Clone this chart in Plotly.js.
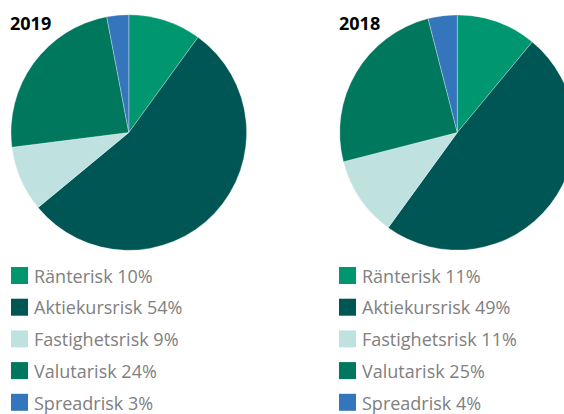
<!DOCTYPE html>
<html>
<head>
<meta charset="utf-8">
<script src="https://cdn.plot.ly/plotly-3.0.1.min.js"></script>
<style>
html, body { margin: 0; padding: 0; overflow: hidden; background: #fff; width: 564px; height: 414px; }
#chart { width: 600px; height: 414px; }
</style>
</head>
<body>
<div id="chart"></div>
<script>
// ---- data ----
const categories = ["Ränterisk", "Aktiekursrisk", "Fastighetsrisk", "Valutarisk", "Spreadrisk"];
const values2019 = [10, 54, 9, 24, 3];
const values2018 = [11, 49, 11, 25, 4];
const years = ["2019", "2018"];
const colors = ["#00966f", "#005655", "#bfe1df", "#00785d", "#3575bb"];

// ---- layout helpers ----
const W = 600, H = 414;
const px = x => x / W;
const py = y => 1 - y / H;

const pies = [
  { values: values2019, cx: 128.8, cy: 132.5, r: 117.8, legX: 11, titleX: 10 },
  { values: values2018, cx: 457.3, cy: 132.5, r: 117.6, legX: 339, titleX: 338.5 }
];

const traces = pies.map((p, k) => ({
  type: "pie",
  labels: categories,
  values: p.values,
  sort: false,
  direction: "clockwise",
  rotation: 0,
  textinfo: "none",
  hoverinfo: "label+percent",
  showlegend: false,
  marker: { colors: colors, line: { color: "rgba(255,255,255,0.6)", width: 0.5 } },
  domain: {
    x: [px(p.cx - p.r), px(p.cx + p.r)],
    y: [py(p.cy + p.r), py(p.cy - p.r)]
  }
}));

const shapes = [];
const annotations = [];
const rowStart = 275.5, rowGap = 31.7, sw = 17;

pies.forEach((p, k) => {
  annotations.push({
    xref: "paper", yref: "paper",
    x: px(p.titleX), y: py(22.5),
    xanchor: "left", yanchor: "middle",
    borderpad: 0, borderwidth: 0,
    text: "<b>" + years[k] + "</b>",
    showarrow: false,
    font: { family: "'Open Sans', sans-serif", size: 18, color: "#000", weight: 800 }
  });
  categories.forEach((c, i) => {
    const yc = rowStart + i * rowGap;
    shapes.push({
      type: "rect", xref: "paper", yref: "paper",
      x0: px(p.legX), x1: px(p.legX + sw),
      y0: py(yc + sw / 2), y1: py(yc - sw / 2),
      fillcolor: colors[i], line: { width: 0 }
    });
    annotations.push({
      xref: "paper", yref: "paper",
      x: px(p.legX + 22.5), y: py(yc + 0.2),
      xanchor: "left", yanchor: "middle",
      borderpad: 0, borderwidth: 0,
      text: c + " " + p.values[i] + "%",
      showarrow: false,
      font: { family: "'Open Sans', sans-serif", size: 18, color: "#808080" }
    });
  });
});

const layout = {
  width: W, height: H,
  margin: { l: 0, r: 0, t: 0, b: 0 },
  paper_bgcolor: "#fff",
  plot_bgcolor: "#fff",
  showlegend: false,
  shapes: shapes,
  annotations: annotations
};

Plotly.newPlot("chart", traces, layout, { displayModeBar: false });
</script>
</body>
</html>
